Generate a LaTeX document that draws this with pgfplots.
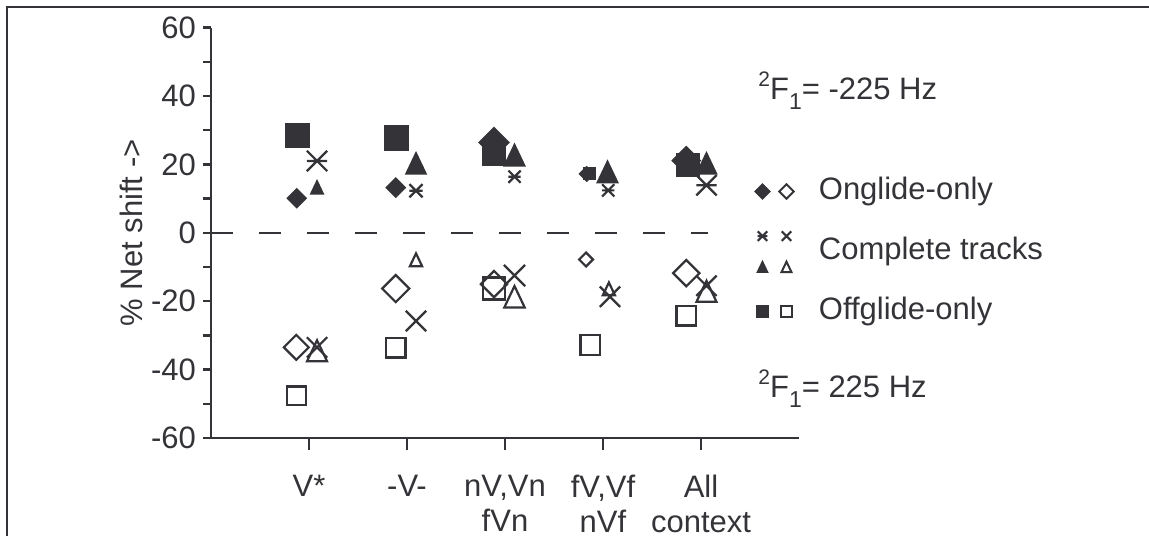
\documentclass[border=0pt]{standalone}
\usepackage{fontspec}
\setmainfont{Liberation Sans}
\usepackage{pgfplots}
\usepackage{pgfplotstable}
\pgfplotsset{compat=1.18}
\definecolor{dk}{RGB}{51,51,56}
\newcommand{\fs}{\fontsize{15.5}{17.5}\selectfont}
\newcommand{\Fone}{\raisebox{0.42em}{\fontsize{10.5}{10.5}\selectfont 2}F\raisebox{-0.32em}{\fontsize{11.5}{11.5}\selectfont 1}}

\pgfdeclareplotmark{xbar}{%
  \pgfpathmoveto{\pgfqpoint{-\pgfplotmarksize}{-\pgfplotmarksize}}%
  \pgfpathlineto{\pgfqpoint{\pgfplotmarksize}{\pgfplotmarksize}}%
  \pgfpathmoveto{\pgfqpoint{-\pgfplotmarksize}{\pgfplotmarksize}}%
  \pgfpathlineto{\pgfqpoint{\pgfplotmarksize}{-\pgfplotmarksize}}%
  \pgfpathmoveto{\pgfqpoint{-\pgfplotmarksize}{0pt}}%
  \pgfpathlineto{\pgfqpoint{\pgfplotmarksize}{0pt}}%
  \pgfusepathqstroke}
\pgfdeclareplotmark{xx}{%
  \pgfpathmoveto{\pgfqpoint{-\pgfplotmarksize}{-\pgfplotmarksize}}%
  \pgfpathlineto{\pgfqpoint{\pgfplotmarksize}{\pgfplotmarksize}}%
  \pgfpathmoveto{\pgfqpoint{-\pgfplotmarksize}{\pgfplotmarksize}}%
  \pgfpathlineto{\pgfqpoint{\pgfplotmarksize}{-\pgfplotmarksize}}%
  \pgfusepathqstroke}
\pgfdeclareplotmark{trif}{%
  \pgfpathmoveto{\pgfqpoint{0pt}{1.05\pgfplotmarksize}}%
  \pgfpathlineto{\pgfqpoint{\pgfplotmarksize}{-1.05\pgfplotmarksize}}%
  \pgfpathlineto{\pgfqpoint{-\pgfplotmarksize}{-1.05\pgfplotmarksize}}%
  \pgfpathclose\pgfusepathqfillstroke}
\pgfdeclareplotmark{trio}{%
  \pgfpathmoveto{\pgfqpoint{0pt}{1.05\pgfplotmarksize}}%
  \pgfpathlineto{\pgfqpoint{\pgfplotmarksize}{-1.05\pgfplotmarksize}}%
  \pgfpathlineto{\pgfqpoint{-\pgfplotmarksize}{-1.05\pgfplotmarksize}}%
  \pgfpathclose\pgfusepathqstroke}

\pgfplotsset{
  ps/.style={only marks, scatter, forget plot,
    scatter/use mapped color={draw=dk, fill=dk},
    visualization depends on={\thisrow{s}\as\perms},
    scatter/@pre marker code/.append style={/tikz/mark size=\perms pt}},
}

% filled = -225 Hz (positive shifts), open = +225 Hz (negative shifts)
\pgfplotstableread{
x y s
0.875 10.1 3.3
1.885 13.2 3.3
2.888 26.4 5.2
3.834 17.2 2.5
4.850 21.1 4.9
}\fdiam
\pgfplotstableread{
x y s
0.870 -33.5 4.4
1.885 -16.3 4.8
2.888 -15.0 4.65
3.827 -7.8 2.45
4.850 -11.8 4.65
}\odiam
\pgfplotstableread{
x y s
0.883 28.5 5.9
1.895 27.7 5.9
2.888 22.8 5.4
3.864 17.3 3.0
4.864 19.9 5.6
}\fsq
\pgfplotstableread{
x y s
0.875 -47.7 4.7
1.885 -33.6 4.9
2.888 -16.3 5.5
3.870 -32.8 4.9
4.850 -24.2 4.95
}\osq
\pgfplotstableread{
x y s
1.082 21.0 5.1
2.092 12.3 3.3
3.097 16.4 3.05
4.054 12.4 3.05
5.056 13.9 5.1
}\fcr
\pgfplotstableread{
x y s
1.082 -33.5 5.1
2.092 -25.8 5.1
3.097 -12.5 5.3
4.071 -18.7 5.1
5.056 -15.5 5.1
}\ocr
\pgfplotstableread{
x y s
1.082 13.3 3.05
2.092 20.3 5.0
3.097 22.7 5.1
4.046 17.8 5.1
5.056 20.3 5.0
}\ftri
\pgfplotstableread{
x y s
1.082 -34.5 5.0
2.092 -7.9 3.05
3.097 -18.7 5.1
4.060 -16.4 3.05
5.056 -17.1 5.0
}\otri

\begin{document}
\begin{tikzpicture}
\useasboundingbox (0,0) rectangle (574.5pt,268pt);
\draw[dk, line width=1pt] (3.5pt,0pt) -- (3.5pt,264.5pt) -- (574.5pt,264.5pt);
\begin{axis}[
  at={(105.5pt,49pt)}, anchor=south west,
  scale only axis, width=294pt, height=205.2pt,
  xmin=0, xmax=6, ymin=-60, ymax=60,
  axis x line*=bottom, axis y line*=left,
  xtick={1,2,3,4,5},
  xticklabels={V*, -V-, {nV,Vn\\fVn}, {fV,Vf\\nVf}, {All\\context}},
  ytick={-60,-40,...,60},
  minor ytick={-50,-30,...,50},
  tick align=outside,
  major tick length=4pt, minor tick length=4pt,
  xtick style={/pgfplots/major tick length=6pt},
  axis line style={line width=1.2pt, dk},
  tick style={line width=1.2pt, dk},
  every tick/.style={line width=1.2pt, dk},
  clip=false,
  /pgf/number format/assume math mode=true,
  tick label style={font=\fs, text=dk},
  xticklabel style={align=center, yshift=-11pt},
  ylabel={\% Net shift ->},
  ylabel style={font=\fs, text=dk, at={(axis description cs:-0.136,0.5)}, anchor=center},
  legend style={draw=none, fill=none, at={(axis description cs:0.91,0.66)},
    anchor=north west, inner sep=0pt, row sep=6pt, font=\fs, text=dk,
    nodes={inner sep=0pt, text height=11pt, text depth=3.5pt},
    /tikz/every odd column/.append style={column sep=8.2pt}},
  legend cell align=left,
]
\addlegendimage{legend image code/.code={%
  \path[draw=none, fill=none] (-8pt,-12pt) rectangle (20pt,12pt);
  \draw[dk, fill=dk, line width=0.8pt] plot[only marks, mark=square*, mark size=2.55pt, mark options={rotate=45}] coordinates {(0pt,0pt)};
  \draw[dk, line width=1pt] plot[only marks, mark=square, mark size=2.55pt, mark options={rotate=45}] coordinates {(12pt,0pt)};
}}
\addlegendentry{Onglide-only}
\addlegendimage{legend image code/.code={%
  \path[draw=none, fill=none] (-8pt,-12pt) rectangle (20pt,12pt);
  \draw[dk, line width=1pt] plot[only marks, mark=xbar, mark size=2.4pt] coordinates {(0pt,7.7pt)};
  \draw[dk, line width=1pt] plot[only marks, mark=xx, mark size=2.4pt] coordinates {(12pt,7.7pt)};
  \draw[dk, fill=dk, line width=0.8pt] plot[only marks, mark=trif, mark size=2.5pt] coordinates {(0pt,-7.7pt)};
  \draw[dk, line width=1pt] plot[only marks, mark=trio, mark size=2.5pt] coordinates {(12pt,-7.7pt)};
}}
\addlegendentry{Complete tracks}
\addlegendimage{legend image code/.code={%
  \path[draw=none, fill=none] (-8pt,-12pt) rectangle (20pt,12pt);
  \draw[dk, fill=dk, line width=0.8pt] plot[only marks, mark=square*, mark size=2.9pt] coordinates {(0pt,0pt)};
  \draw[dk, line width=1pt] plot[only marks, mark=square, mark size=2.8pt] coordinates {(12pt,0pt)};
}}
\addlegendentry{Offglide-only}

\addplot[dk, line width=1.2pt, dash pattern=on 11pt off 13pt, forget plot] coordinates {(0,0) (5.07,0)};

\addplot[ps, mark=square*, mark options={rotate=45, line width=0.8pt}] table {\fdiam};
\addplot[ps, mark=square, mark options={rotate=45, line width=1.1pt}] table {\odiam};
\addplot[ps, mark=square*, mark options={line width=0.8pt}] table {\fsq};
\addplot[ps, mark=square, mark options={line width=1.1pt}] table {\osq};
\addplot[ps, mark=xbar, mark options={line width=1.1pt}] table {\fcr};
\addplot[ps, mark=xx, mark options={line width=1.1pt}] table {\ocr};
\addplot[ps, mark=trif, mark options={line width=0.8pt}] table {\ftri};
\addplot[ps, mark=trio, mark options={line width=1.1pt}] table {\otri};
\end{axis}
\node[anchor=base west, text=dk, font=\fs, inner sep=0pt] at (379pt,218pt) {\Fone= -225 Hz};
\node[anchor=base west, text=dk, font=\fs, inner sep=0pt] at (379pt,69.2pt) {\Fone= 225 Hz};
\end{tikzpicture}
\end{document}
